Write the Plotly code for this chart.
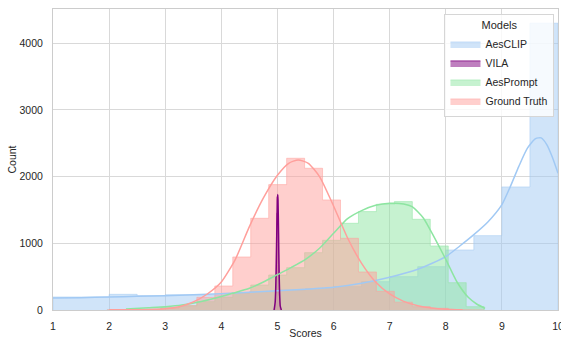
import plotly.graph_objects as go

# ---- data -------------------------------------------------------------
models = ["AesCLIP", "VILA", "AesPrompt", "Ground Truth"]

aesclip_edges = [1.0, 1.5, 2.0, 2.5, 3.0, 3.5, 4.0, 4.5, 5.0, 5.5, 6.0,
                 6.5, 7.0, 7.5, 8.0, 8.5, 9.0, 9.5, 10.0]
aesclip_counts = [195, 195, 235, 215, 230, 225, 250, 275, 300, 320, 350,
                  425, 500, 650, 900, 1115, 1845, 4300]

vila_edges = [4.955, 4.965, 4.975, 4.985, 4.995, 5.005, 5.015, 5.025, 5.035, 5.045, 5.055]
vila_counts = [40, 250, 800, 1450, 1700, 1350, 700, 220, 50, 10]

score_edges = [1.964, 2.284, 2.604, 2.924, 3.244, 3.564, 3.884, 4.204, 4.524,
               4.844, 5.164, 5.484, 5.804, 6.124, 6.444, 6.764, 7.084, 7.404,
               7.724, 8.044, 8.364, 8.684]
aesprompt_counts = [2, 5, 15, 35, 65, 125, 190, 262, 375, 525, 635, 860, 1045,
                    1300, 1475, 1585, 1625, 1360, 960, 410, 50]
truth_counts = [3, 5, 12, 30, 65, 190, 360, 795, 1375, 1880, 2275, 2125, 1650,
                1075, 570, 280, 118, 50, 25, 8, 0]

# kernel density curves (count scale)
aesclip_kde_x = [1.0, 1.5, 2.0, 2.5, 3.0, 3.5, 4.0, 4.5, 5.0, 5.5, 6.0, 6.5, 7.0,
                 7.5, 8.0, 8.25, 8.5, 8.75, 9.0, 9.15, 9.3, 9.45, 9.6, 9.7, 9.8, 9.9, 10.0]
aesclip_kde_y = [180, 185, 195, 205, 215, 228, 245, 265, 288, 310, 340, 400, 490,
                 610, 800, 960, 1130, 1320, 1580, 1850, 2150, 2420, 2570, 2580,
                 2480, 2290, 2050]

vila_kde_x = [4.94, 4.96, 4.98, 4.99, 5.0, 5.005, 5.01, 5.02, 5.03, 5.05, 5.07]
vila_kde_y = [0, 120, 700, 1250, 1650, 1730, 1650, 1150, 550, 60, 0]

aesprompt_kde_x = [2.3, 2.7, 3.0, 3.3, 3.6, 3.9, 4.2, 4.5, 4.75, 5.0, 5.25, 5.5,
                   5.75, 6.0, 6.25, 6.5, 6.75, 7.0, 7.25, 7.4, 7.6, 7.8, 8.0,
                   8.2, 8.4, 8.55, 8.7]
aesprompt_kde_y = [15, 35, 50, 75, 120, 180, 250, 325, 420, 530, 640, 760, 925,
                   1150, 1370, 1490, 1570, 1600, 1590, 1550, 1380, 1080, 760,
                   420, 190, 90, 25]

truth_kde_x = [2.0, 2.5, 3.0, 3.25, 3.5, 3.75, 4.0, 4.25, 4.5, 4.75, 5.0, 5.2,
               5.37, 5.55, 5.75, 6.0, 6.25, 6.5, 6.75, 7.0, 7.25, 7.5, 7.75, 8.0, 8.3]
truth_kde_y = [2, 5, 20, 50, 120, 240, 420, 760, 1250, 1680, 2020, 2200, 2250,
               2200, 2000, 1560, 1080, 700, 420, 240, 130, 65, 30, 12, 3]

x_ticks = [1, 2, 3, 4, 5, 6, 7, 8, 9, 10]
y_ticks = [0, 1000, 2000, 3000, 4000]

colors = {
    "AesCLIP": (161, 201, 244),
    "VILA": (128, 0, 128),
    "AesPrompt": (141, 229, 161),
    "Ground Truth": (255, 159, 155),
}


def rgba(c, a):
    return f"rgba({c[0]},{c[1]},{c[2]},{a})"


def step_outline(edges, counts):
    xs, ys = [edges[0]], [0]
    for i, c in enumerate(counts):
        xs += [edges[i], edges[i + 1]]
        ys += [c, c]
    xs.append(edges[-1])
    ys.append(0)
    return xs, ys


hists = {
    "AesCLIP": (aesclip_edges, aesclip_counts),
    "VILA": (vila_edges, vila_counts),
    "AesPrompt": (score_edges, aesprompt_counts),
    "Ground Truth": (score_edges, truth_counts),
}
kdes = {
    "AesCLIP": (aesclip_kde_x, aesclip_kde_y),
    "VILA": (vila_kde_x, vila_kde_y),
    "AesPrompt": (aesprompt_kde_x, aesprompt_kde_y),
    "Ground Truth": (truth_kde_x, truth_kde_y),
}

fig = go.Figure()

# filled step histograms
for name in models:
    edges, counts = hists[name]
    xs, ys = step_outline(edges, counts)
    c = colors[name]
    edge_col = rgba(c, 0.5) if name != "VILA" else rgba(c, 0.8)
    fig.add_trace(go.Scatter(
        x=xs, y=ys, mode="lines", name=name, fill="tozeroy",
        fillcolor=rgba(c, 0.5),
        line=dict(color=edge_col, width=1),
        showlegend=True, hoverinfo="skip",
    ))

# density curves on top
for name in models:
    kx, ky = kdes[name]
    c = colors[name]
    fig.add_trace(go.Scatter(
        x=kx, y=ky, mode="lines",
        line=dict(color=rgba(c, 1), width=1.5, shape="spline", smoothing=0.6),
        showlegend=False, hoverinfo="skip",
    ))

font_family = "Liberation Sans, Arial, sans-serif"
text_col = "#262626"
grid_col = "#d9d9d9"

fig.update_layout(
    template="none",
    width=561, height=339,
    margin=dict(l=53, r=3, t=9, b=29),
    paper_bgcolor="white", plot_bgcolor="white",
    font=dict(family=font_family, size=10.5, color=text_col),
    legend=dict(
        title=dict(text="Models", side="top center", font=dict(size=11, color=text_col)),
        x=0.993, y=0.983, xanchor="right", yanchor="top",
        bgcolor="rgba(255,255,255,0.8)", bordercolor="#d6d6d6", borderwidth=1,
        font=dict(size=10.5, color=text_col), tracegroupgap=0, itemwidth=30,
    ),
)

fig.update_xaxes(
    range=[1, 10], tickvals=x_ticks, ticktext=[str(t) for t in x_ticks],
    tickfont=dict(color=text_col, size=10.5), ticklabeloverflow="allow",
    showgrid=True, gridcolor=grid_col, gridwidth=1, zeroline=False,
    showline=True, linecolor="#cccccc", linewidth=1, mirror=True,
    ticks="", ticklabelstandoff=6,
    title=dict(text="Scores", standoff=8, font=dict(size=10.5, color=text_col)),
)
fig.update_yaxes(
    range=[0, 4513], tickvals=y_ticks, ticktext=[str(t) for t in y_ticks],
    tickfont=dict(color=text_col, size=10.5),
    showgrid=True, gridcolor=grid_col, gridwidth=1, zeroline=False,
    showline=True, linecolor="#cccccc", linewidth=1, mirror=True,
    ticks="", ticklabelstandoff=7,
    title=dict(text="Count", standoff=0, font=dict(size=10.5, color=text_col)),
)

fig.write_html("out.html")
